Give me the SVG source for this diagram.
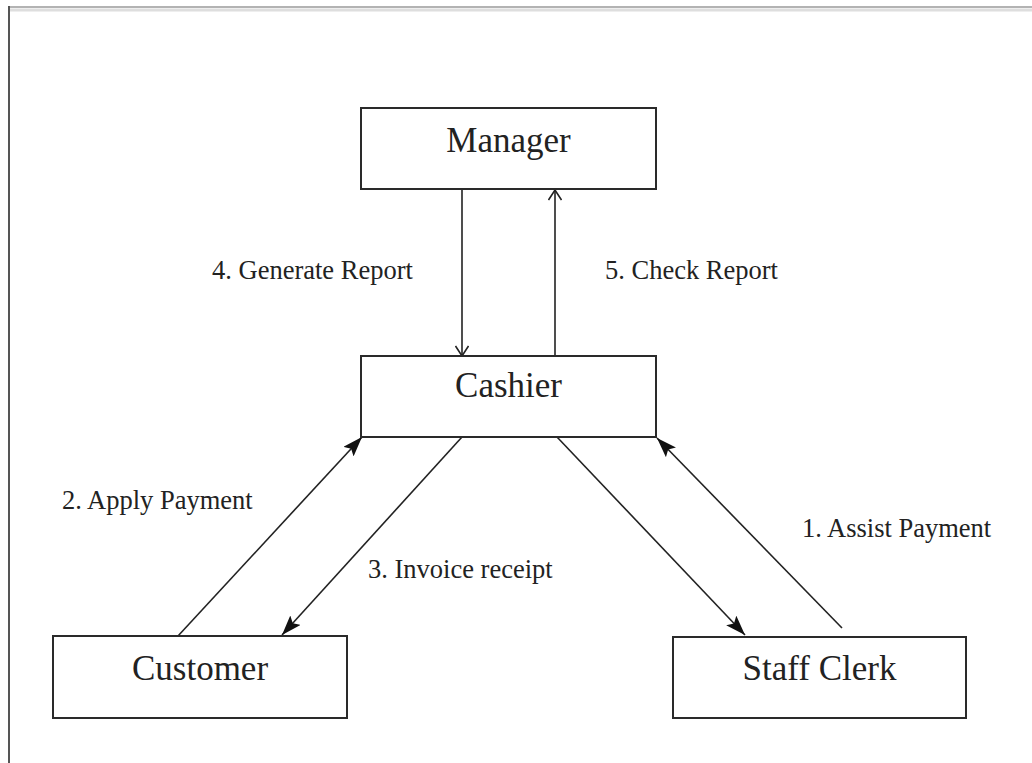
<svg xmlns="http://www.w3.org/2000/svg" width="1032" height="763" viewBox="0 0 1032 763">
  <style>
    .box { fill: #ffffff; stroke: #2a2a2a; stroke-width: 2; }
    .node-text { font-family: "Liberation Serif", "Times New Roman", serif; font-size: 35px; fill: #222; text-anchor: middle; }
    .label { font-family: "Liberation Serif", "Times New Roman", serif; font-size: 26.5px; fill: #222; }
    .conn { stroke: #222; stroke-width: 1.6; fill: none; }
  </style>
  <defs>
    <marker id="filled" markerUnits="userSpaceOnUse" viewBox="0 0 20 14" refX="20" refY="7" markerWidth="20" markerHeight="14" orient="auto">
      <path d="M0,0 L20,7 L0,14 L4,7 z" fill="#111"/>
    </marker>
    <marker id="open" markerUnits="userSpaceOnUse" viewBox="0 0 12 14" refX="11" refY="7" markerWidth="12" markerHeight="14" orient="auto">
      <path d="M1,0.5 L11,7 L1,13.5" fill="none" stroke="#222" stroke-width="1.6"/>
    </marker>
  </defs>
  <rect x="0" y="0" width="1032" height="763" fill="#ffffff"/>
  <!-- frame -->
  <g id="frame">
    <line x1="9" y1="7" x2="1032" y2="7" stroke="#9a9a9a" stroke-width="1.5"/>
    <line x1="9" y1="10" x2="1032" y2="10" stroke="#dedede" stroke-width="3"/>
    <line x1="9" y1="6" x2="9" y2="763" stroke="#555" stroke-width="2"/>
  </g>
  <g id="connectors">
    <line class="conn" x1="462" y1="189" x2="462" y2="356" marker-end="url(#open)"/>
    <line class="conn" x1="555" y1="356" x2="555" y2="190" marker-end="url(#open)"/>
    <line class="conn" x1="178" y1="636" x2="362" y2="437" marker-end="url(#filled)"/>
    <line class="conn" x1="462" y1="437" x2="282" y2="635" marker-end="url(#filled)"/>
    <line class="conn" x1="557" y1="437" x2="745" y2="635" marker-end="url(#filled)"/>
    <line class="conn" x1="842" y1="628" x2="657" y2="438" marker-end="url(#filled)"/>
    <text class="label" x="212" y="279">4. Generate Report</text>
    <text class="label" x="605" y="279">5. Check Report</text>
    <text class="label" x="62" y="509">2. Apply Payment</text>
    <text class="label" x="368" y="578">3. Invoice receipt</text>
    <text class="label" x="802" y="537">1. Assist Payment</text>
  </g>
  <g id="manager">
    <rect class="box" x="361" y="108" width="295" height="81"/>
    <text class="node-text" x="508.5" y="152">Manager</text>
  </g>
  <g id="cashier">
    <rect class="box" x="361" y="356" width="295" height="81"/>
    <text class="node-text" x="508.5" y="397">Cashier</text>
  </g>
  <g id="customer">
    <rect class="box" x="53" y="636" width="294" height="82"/>
    <text class="node-text" x="200" y="680">Customer</text>
  </g>
  <g id="staff-clerk">
    <rect class="box" x="673" y="637" width="293" height="81"/>
    <text class="node-text" x="819.5" y="680">Staff Clerk</text>
  </g>
</svg>
